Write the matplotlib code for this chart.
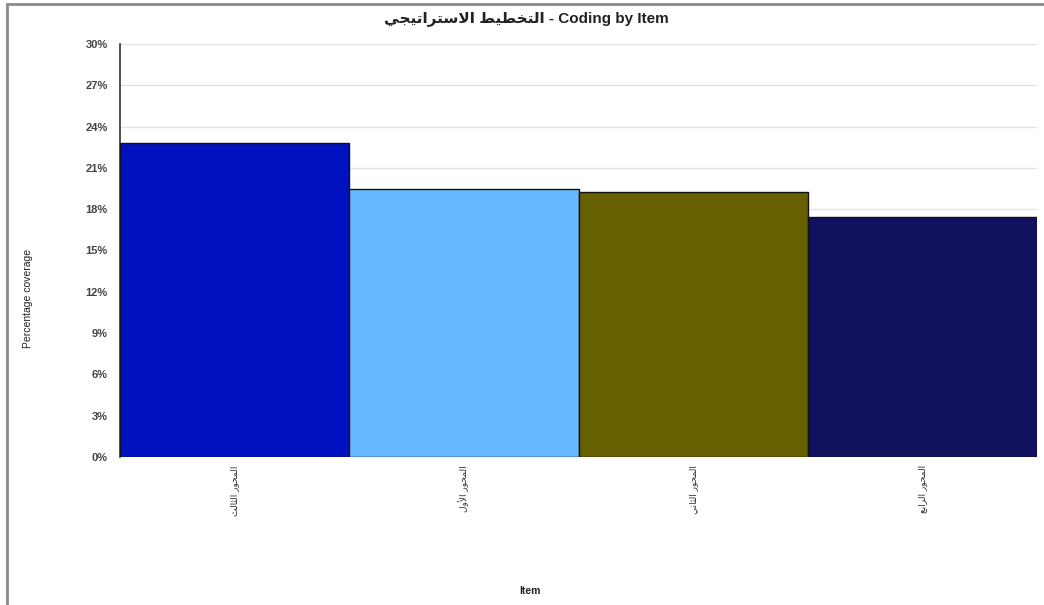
import matplotlib
matplotlib.use('Agg')
import matplotlib.pyplot as plt
from matplotlib.patches import Rectangle
from matplotlib.ticker import FuncFormatter

# coverage per item, in percent
items = ['المحور الثالث', 'المحور الأول', 'المحور الثاني', 'المحور الرابع']
coverage = [22.8, 19.5, 19.25, 17.45]
bar_colors = ['#0012bf', '#66b8ff', '#666000', '#10105e']
title_ar = 'التخطيط الاستراتيجي'

# Arabic presentation forms: isolated, final, initial, medial
# (None for letters that do not join to the next one)
FORMS = {
    'ا': ('\uFE8D', '\uFE8E', None, None),
    'أ': ('\uFE83', '\uFE84', None, None),
    'ب': ('\uFE8F', '\uFE90', '\uFE91', '\uFE92'),
    'ت': ('\uFE95', '\uFE96', '\uFE97', '\uFE98'),
    'ث': ('\uFE99', '\uFE9A', '\uFE9B', '\uFE9C'),
    'ج': ('\uFE9D', '\uFE9E', '\uFE9F', '\uFEA0'),
    'ح': ('\uFEA1', '\uFEA2', '\uFEA3', '\uFEA4'),
    'خ': ('\uFEA5', '\uFEA6', '\uFEA7', '\uFEA8'),
    'ر': ('\uFEAD', '\uFEAE', None, None),
    'س': ('\uFEB1', '\uFEB2', '\uFEB3', '\uFEB4'),
    'ط': ('\uFEC1', '\uFEC2', '\uFEC3', '\uFEC4'),
    'ع': ('\uFEC9', '\uFECA', '\uFECB', '\uFECC'),
    'ل': ('\uFEDD', '\uFEDE', '\uFEDF', '\uFEE0'),
    'م': ('\uFEE1', '\uFEE2', '\uFEE3', '\uFEE4'),
    'ن': ('\uFEE5', '\uFEE6', '\uFEE7', '\uFEE8'),
    'و': ('\uFEED', '\uFEEE', None, None),
    'ي': ('\uFEF1', '\uFEF2', '\uFEF3', '\uFEF4'),
}
LAM_ALEF = {'ا': ('\uFEFB', '\uFEFC'), 'أ': ('\uFEF7', '\uFEF8')}


def shape_word(word):
    out = []
    i = 0
    prev_joins = False
    while i < len(word):
        ch = word[i]
        if ch == 'ل' and i + 1 < len(word) and word[i + 1] in LAM_ALEF:
            iso, fin = LAM_ALEF[word[i + 1]]
            out.append(fin if prev_joins else iso)
            prev_joins = False
            i += 2
            continue
        iso, fin, ini, med = FORMS[ch]
        next_exists = i + 1 < len(word)
        joins_next = ini is not None and next_exists
        if prev_joins and joins_next:
            out.append(med)
        elif prev_joins:
            out.append(fin)
        elif joins_next:
            out.append(ini)
        else:
            out.append(iso)
        prev_joins = joins_next
        i += 1
    return ''.join(out)


def arabic(text):
    # shape each word, then lay out right-to-left
    words = [shape_word(w) for w in text.split(' ')]
    return ' '.join(w[::-1] for w in words[::-1])


plt.rcParams['font.family'] = ['Liberation Sans', 'DejaVu Sans']

fig = plt.figure(figsize=(10.44, 6.05), dpi=100)
fig.patches.append(Rectangle((7 / 1044, -0.01), 1.1, 1 - 4 / 605 + 0.01,
                             transform=fig.transFigure, fill=False,
                             edgecolor='#8a8a8a', linewidth=2))

ax = fig.add_axes([120 / 1044, 1 - 457 / 605, 917 / 1044, 413 / 605])
x = range(len(items))
ax.bar(x, coverage, width=1.0, color=bar_colors, edgecolor='#111111',
       linewidth=1.0, zorder=3)

ax.set_xlim(-0.5, len(items) - 0.5)
ax.set_ylim(0, 30)
ax.set_yticks(range(0, 31, 3))
ax.yaxis.set_major_formatter(FuncFormatter(lambda v, p: '%d%%' % v))
ax.grid(axis='y', color='#e2e2e2', linewidth=1.0, zorder=0)
ax.tick_params(axis='y', length=0, pad=9, labelsize=8, labelcolor='#444444')
ax.tick_params(axis='x', length=0, pad=6)
for lbl in ax.get_yticklabels():
    lbl.set_fontweight('bold')

ax.set_xticks(list(x))
ax.set_xticklabels([arabic(s) for s in items], rotation=90, fontsize=6.5,
                   color='#333333', family=['DejaVu Sans'])

for side in ['top', 'right', 'bottom']:
    ax.spines[side].set_visible(False)
ax.spines['left'].set_color('#333333')
ax.spines['left'].set_linewidth(1.2)

fig.text(526 / 1044, 1 - 19 / 605, arabic(title_ar) + ' - Coding by Item',
         ha='center', va='center', fontsize=11, fontweight='bold',
         color='#222222', family=['Liberation Sans', 'DejaVu Sans'])
fig.text(28 / 1044, 1 - 298 / 605, 'Percentage coverage', rotation=90,
         ha='center', va='center', fontsize=7.5, color='#222222')
fig.text(530 / 1044, 1 - 591 / 605, 'Item', ha='center', va='center',
         fontsize=7.5, fontweight='bold', color='#222222')

plt.savefig('out.png', dpi=100)
